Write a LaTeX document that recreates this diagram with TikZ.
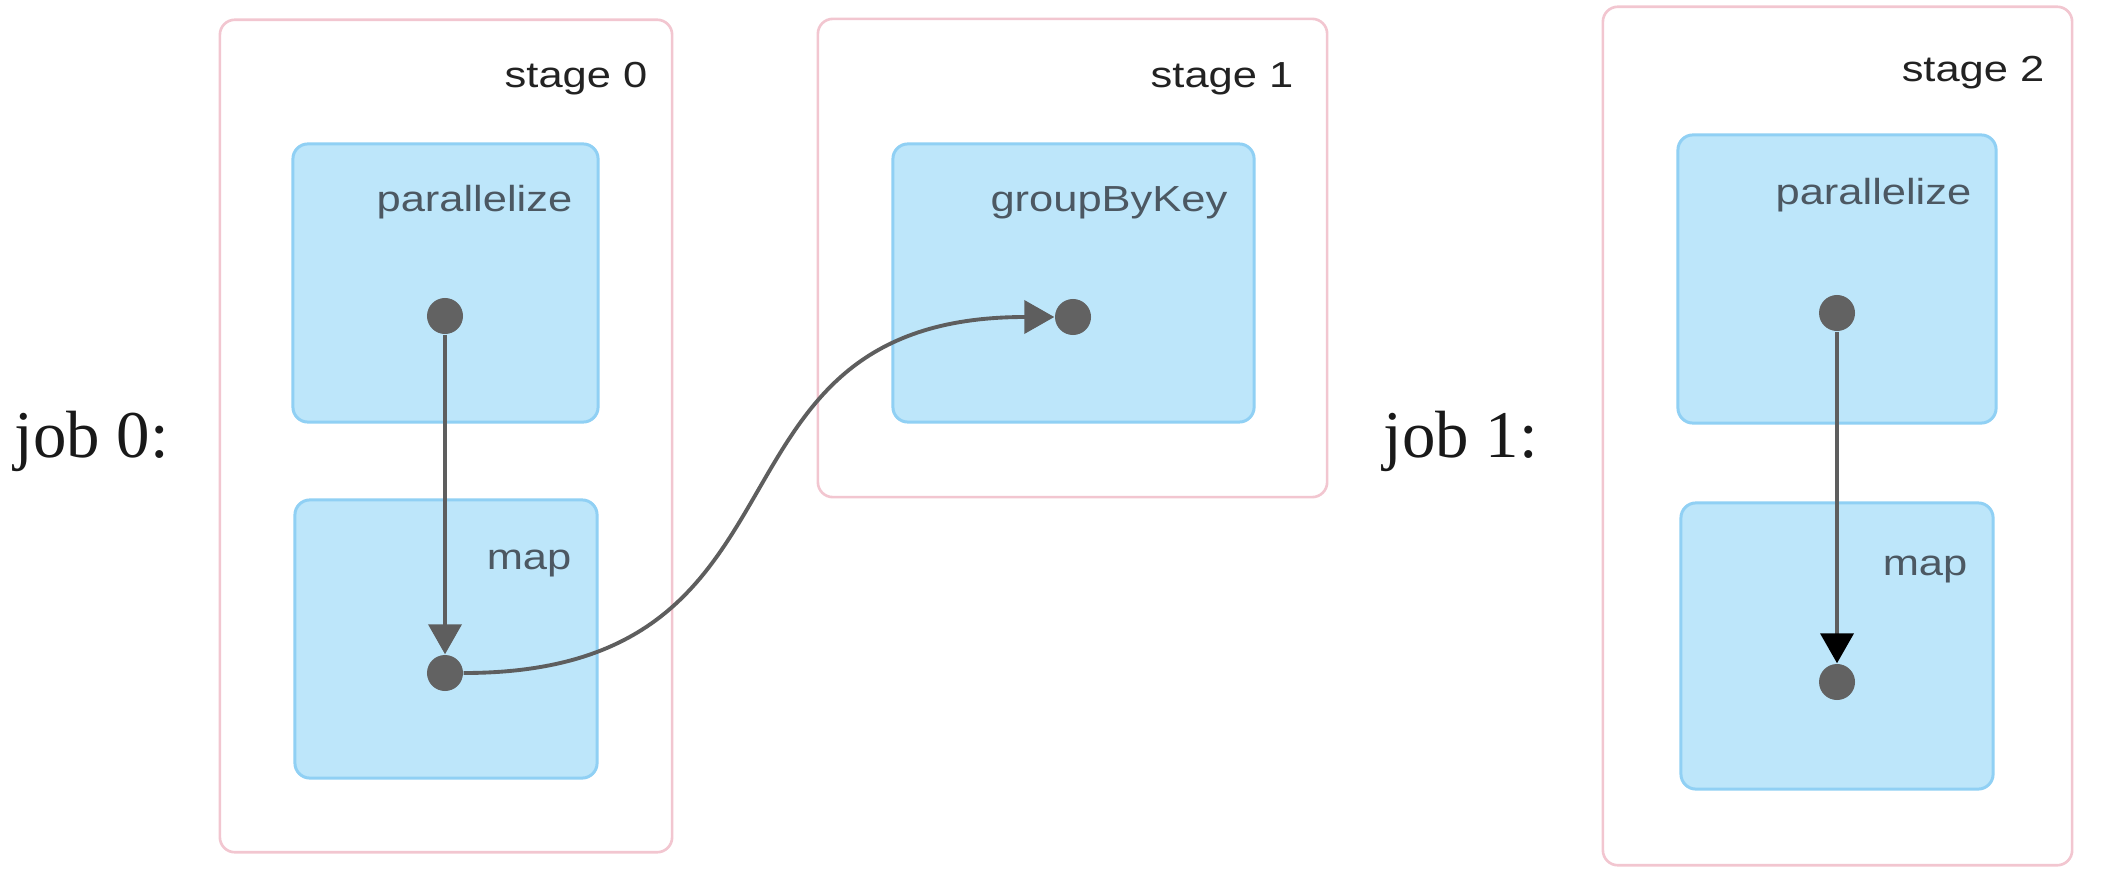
\documentclass[tikz,border=0pt]{standalone}
\usepackage{fontspec}
\usetikzlibrary{arrows.meta}
\newfontfamily\lblfont[FakeStretch=1.2]{Liberation Sans}
\newfontfamily\jobfont{Liberation Serif}
\definecolor{stageborder}{HTML}{F2C6D0}
\definecolor{opfill}{HTML}{BDE6FA}
\definecolor{opborder}{HTML}{90D0F4}
\definecolor{edgegrey}{HTML}{5E5E5E}
\definecolor{dotgrey}{HTML}{626262}
\definecolor{stagetext}{HTML}{222222}
\definecolor{optext}{HTML}{4C5862}
\tikzset{
  stagebox/.style={draw=stageborder, line width=0.75pt, fill=white, rounded corners=0.15cm, inner sep=0pt},
  opbox/.style={draw=opborder, line width=0.85pt, fill=opfill, rounded corners=0.15cm, inner sep=0pt},
  dotnode/.style={circle, fill=dotgrey, minimum size=0.36cm, inner sep=0pt},
  stagelbl/.style={anchor=base east, inner sep=0pt, text=stagetext, font=\lblfont\fontsize{10.3pt}{12pt}\selectfont},
  oplbl/.style={anchor=base east, inner sep=0pt, text=optext, font=\lblfont\fontsize{10.3pt}{12pt}\selectfont},
  joblbl/.style={anchor=base west, inner sep=0pt, text=black!90, font=\jobfont\fontsize{19pt}{22pt}\selectfont},
  flow/.style={draw=edgegrey, line width=1.1pt, -{Triangle[length=0.3cm,width=0.33cm]}},
}
\begin{document}
\begin{tikzpicture}[x=0.01cm, y=-0.01cm]
\useasboundingbox (0,0) rectangle (2104,882);
% stages
\node[stagebox, minimum width=4.52cm, minimum height=8.32cm] (s0) at (446,436) {};
\node[stagebox, minimum width=5.09cm, minimum height=4.78cm] (s1) at (1072.5,258) {};
\node[stagebox, minimum width=4.69cm, minimum height=8.58cm] (s2) at (1837.5,436) {};
% operation boxes
\node[opbox, minimum width=3.05cm, minimum height=2.78cm] (p0) at (445.5,283) {};
\node[opbox, minimum width=3.02cm, minimum height=2.78cm] (m0) at (446,639) {};
\node[opbox, minimum width=3.61cm, minimum height=2.78cm] (g1) at (1073.5,283) {};
\node[opbox, minimum width=3.18cm, minimum height=2.88cm] (p2) at (1837,279) {};
\node[opbox, minimum width=3.12cm, minimum height=2.86cm] (m2) at (1837,646) {};
% labels
\node[stagelbl] (ls0) at (648,88) {stage 0};
\node[stagelbl] (ls1) at (1294,88) {stage 1};
\node[stagelbl] (ls2) at (2045,82) {stage 2};
\node[oplbl] (lp0) at (573,212) {parallelize};
\node[oplbl] (lm0) at (572,569) {map};
\node[oplbl] (lg1) at (1228,212) {groupByKey};
\node[oplbl] (lp2) at (1972,205) {parallelize};
\node[oplbl] (lm2) at (1968,575) {map};
\node[joblbl] (j0) at (14,457) {job 0:};
\node[joblbl] (j1) at (1383,457) {job 1:};
% dots
\node[dotnode] (d0a) at (445,316) {};
\node[dotnode] (d0b) at (445,673) {};
\node[dotnode] (d1) at (1073,317) {};
\node[dotnode] (d2a) at (1837,313) {};
\node[dotnode] (d2b) at (1837,682) {};
% edges
\draw[flow] (d0a) -- (d0b);
\draw[flow] (d0b.east) .. controls +(370,0) and +(-370,0) .. (d1.west);
\draw[draw=edgegrey, line width=1.1pt, -{Triangle[length=0.3cm,width=0.33cm,color=black]}] (d2a) -- (d2b);
\end{tikzpicture}
\end{document}
